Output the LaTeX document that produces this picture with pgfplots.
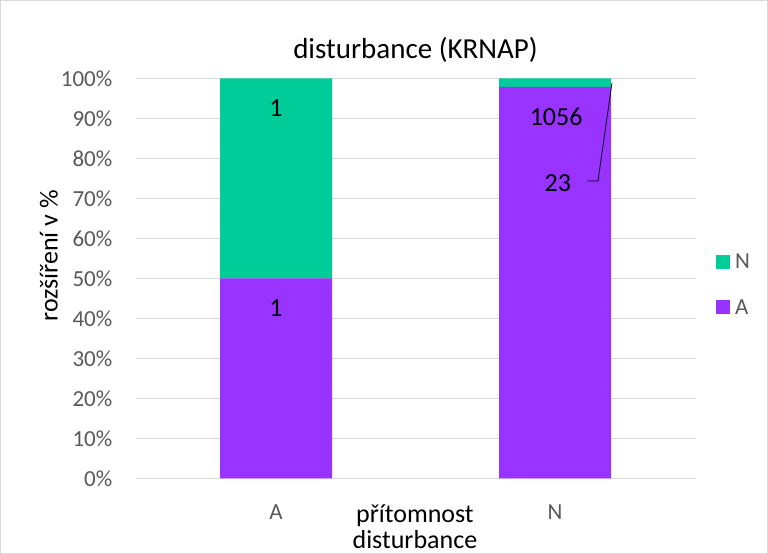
\documentclass[border=0pt]{standalone}
\usepackage{pgfplots}
\pgfplotsset{compat=1.18}
\usepackage{fontspec}
\setmainfont{Carlito}
\definecolor{cA}{HTML}{9933FF}
\definecolor{cN}{HTML}{00CC99}
\definecolor{ticktext}{HTML}{595959}
\definecolor{gridc}{HTML}{D9D9D9}
\newcommand{\fs}[1]{\fontsize{#1bp}{#1bp}\selectfont}
\begin{document}
\begin{tikzpicture}[x=1bp,y=1bp]
\begin{axis}[
  at={(0,0)}, anchor=south west,
  width=558bp, height=400bp, scale only axis,
  ybar stacked, bar width=112bp,
  xmin=-0.5, xmax=1.5, ymin=0, ymax=100,
  xtick={0,1}, xticklabels={A,N},
  ytick={0,10,...,100},
  yticklabel={\pgfmathprintnumber{\tick}\%},
  /pgf/number format/assume math mode=true,
  axis line style={draw=none},
  major tick length=0pt,
  ymajorgrids, grid style={gridc, line width=1bp},
  tick label style={font=\fs{23}, text=ticktext},
  yticklabel style={anchor=east, inner sep=0pt, xshift=-24bp},
  xticklabel style={anchor=center, inner sep=0pt, yshift=-34bp},
  title={disturbance (KRNAP)},
  title style={font=\fs{29}, at={(axis description cs:0.5,1.056)}, anchor=center, inner sep=0pt},
  ylabel={rozšíření v \%},
  ylabel style={font=\fs{26}, at={(axis description cs:-0.157,0.556)}, anchor=center, inner sep=0pt},
  xlabel={přítomnost\\disturbance},
  xlabel style={font=\fs{26}, align=center, at={(axis description cs:0.499,-0.122)}, anchor=center, inner sep=0pt},
  legend entries={A,N},
  reverse legend,
  legend image code/.code={\fill[#1] (0bp,-7bp) rectangle (14bp,7bp);},
  legend style={at={(axis description cs:1.0385,0.566)}, anchor=north west, draw=none, fill=none,
    font=\fs{23}, text=ticktext, inner sep=0pt, row sep=25bp, column sep=3bp,
    cells={anchor=west}},
]
\addplot[fill=cA, draw=none] coordinates {(0,50) (1,97.868)};
\addplot[fill=cN, draw=none] coordinates {(0,50) (1,2.132)};
\coordinate (l1) at (axis cs:0,92.6);
\coordinate (l2) at (axis cs:0,42.6);
\coordinate (l3) at (axis cs:1.004,90.3);
\coordinate (l4) at (axis cs:1.01,73.8);
\coordinate (p1) at (axis cs:1.115,74.3);
\coordinate (p2) at (axis cs:1.154,74.3);
\coordinate (p3) at (axis cs:1.204,98.8);
\end{axis}
\node[font=\fs{26}] at (l1) {1};
\node[font=\fs{26}] at (l2) {1};
\node[font=\fs{26}] at (l3) {1056};
\node[font=\fs{26}] at (l4) {23};
\draw[black, line width=0.75bp] (p1) -- (p2) -- (p3);
\pgfresetboundingbox
\path[use as bounding box] (-136.5,-75.7) rectangle (631.5,478.3);
\draw[gridc, line width=1bp] (-136,-75.2) rectangle (631,477.8);
\end{tikzpicture}
\end{document}
